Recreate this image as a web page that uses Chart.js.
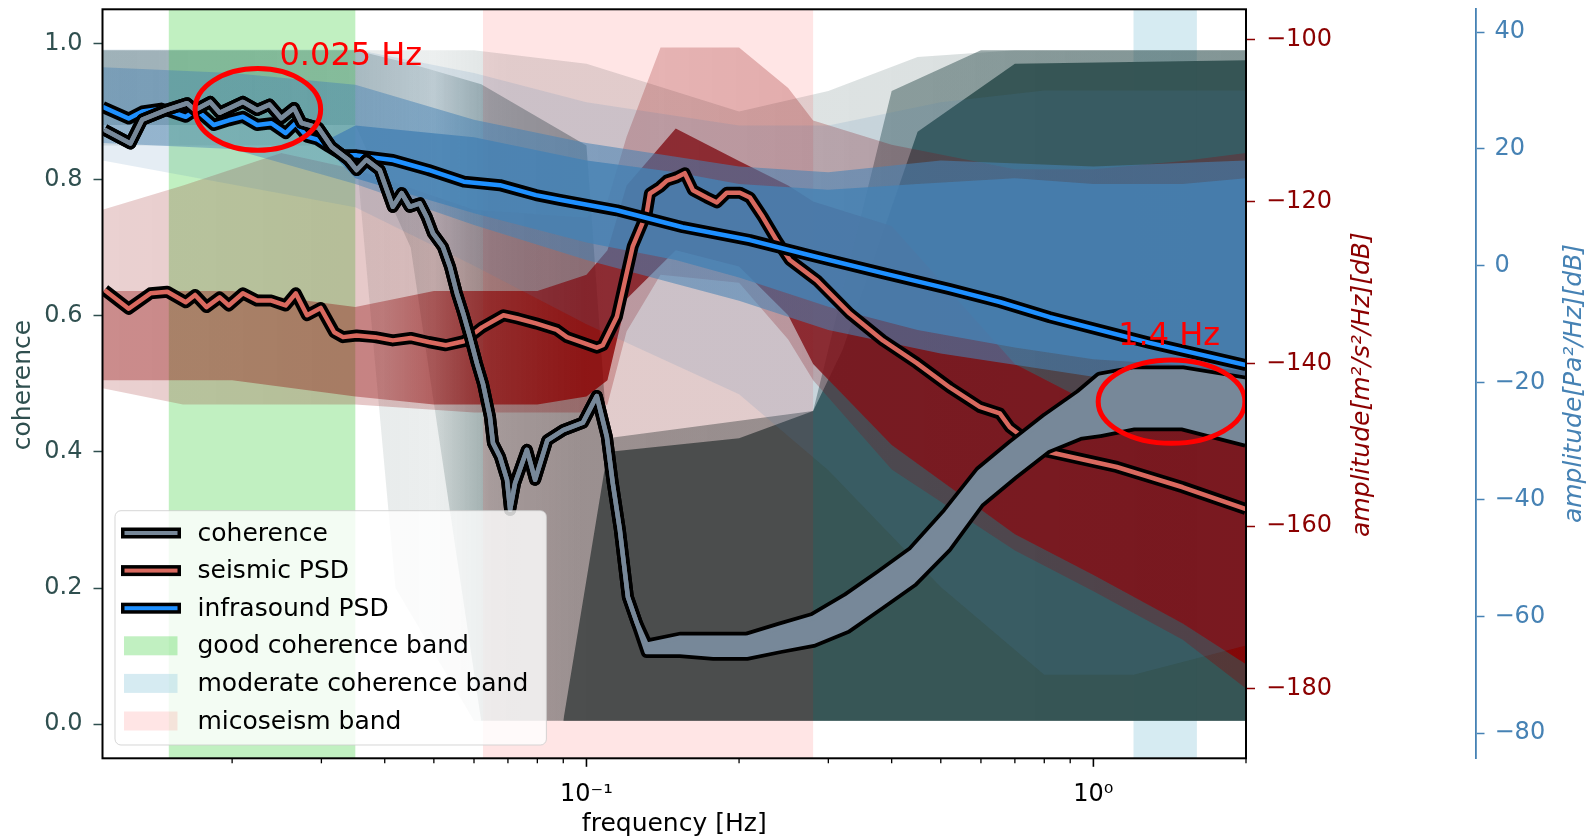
<!DOCTYPE html>
<html>
<head>
<meta charset="utf-8">
<script src="https://cdn.jsdelivr.net/npm/chart.js@4.4.0/dist/chart.umd.min.js"></script>
<style>
  html, body { margin: 0; padding: 0; background: #fff; }
  #wrap { width: 1587px; height: 839px; }
</style>
</head>
<body>
<div id="wrap"><canvas id="chart"></canvas></div>
<script>
// axis limits and ticks
const freqMin = 0.0111, freqMax = 2.0;
const xTicks = [0.02, 0.03, 0.04, 0.05, 0.06, 0.07, 0.08, 0.09, 0.1,
                0.2, 0.3, 0.4, 0.5, 0.6, 0.7, 0.8, 0.9, 1, 2];
const xTickLabels = ['', '', '', '', '', '', '', '', '10⁻¹',
                     '', '', '', '', '', '', '', '', '10⁰', ''];
const cohTicks = [0, 0.2, 0.4, 0.6, 0.8, 1.0];
const seisTicks = [-180, -160, -140, -120, -100];
const infraTicks = [-80, -60, -40, -20, 0, 20, 40];

// mean coherence (thin part) and its noisy band at high frequency
const cohLineF = [0.0112, 0.0126, 0.0133, 0.0148, 0.0163, 0.0169, 0.0181, 0.0189, 0.0210, 0.0224,
  0.0237, 0.0250, 0.0265, 0.0274, 0.0296, 0.0314, 0.0339, 0.0352, 0.0368, 0.0391,
  0.0415, 0.0432, 0.0448, 0.0469, 0.0484, 0.0498, 0.0521, 0.0538, 0.0555, 0.0571,
  0.0589, 0.0608, 0.0625, 0.0645, 0.0654, 0.0675, 0.0697, 0.0707, 0.0723, 0.0763,
  0.0792, 0.0837, 0.0900, 0.0984, 0.1048, 0.1097, 0.1127, 0.1164, 0.1207, 0.1257];
const cohLine = [0.873, 0.853, 0.888, 0.902, 0.912, 0.902, 0.914, 0.898, 0.914, 0.902,
  0.910, 0.890, 0.905, 0.883, 0.876, 0.848, 0.829, 0.814, 0.829, 0.814,
  0.760, 0.780, 0.760, 0.765, 0.745, 0.721, 0.701, 0.672, 0.633, 0.604,
  0.569, 0.530, 0.500, 0.452, 0.413, 0.393, 0.359, 0.315, 0.354, 0.403,
  0.359, 0.417, 0.432, 0.443, 0.482, 0.422, 0.354, 0.285, 0.187, 0.149];
const cohBandF = [0.1315, 0.153, 0.178, 0.207, 0.241, 0.28, 0.326, 0.379, 0.44,
  0.514, 0.597, 0.693, 0.809, 0.94, 1.03, 1.2, 1.5, 2.0];
const cohBandHi = [0.117, 0.127, 0.127, 0.127, 0.142, 0.156, 0.185, 0.219, 0.254,
  0.31, 0.371, 0.411, 0.45, 0.484, 0.509, 0.518, 0.518, 0.503];
const cohBandLo = [0.106, 0.106, 0.102, 0.102, 0.112, 0.121, 0.141, 0.175, 0.209,
  0.26, 0.326, 0.366, 0.405, 0.425, 0.429, 0.439, 0.439, 0.415];

// mean seismic PSD (dB)
const seisF = [0.0112, 0.0125, 0.0138, 0.0149, 0.0162, 0.0169, 0.0178, 0.0189, 0.0197, 0.0210,
  0.0224, 0.0239, 0.0255, 0.0267, 0.0281, 0.0299, 0.0318, 0.0331, 0.0352, 0.0383,
  0.0415, 0.0450, 0.0488, 0.0528, 0.0573, 0.0622, 0.0686, 0.0732, 0.0795, 0.0874,
  0.0915, 0.1048, 0.1077, 0.1148, 0.1234, 0.1315, 0.1334, 0.1396, 0.1441, 0.1508,
  0.1563, 0.1622, 0.1727, 0.1808, 0.1892, 0.2007, 0.2101, 0.2228, 0.2374, 0.2518,
  0.2847, 0.3307, 0.3843, 0.4484, 0.5209, 0.5970, 0.6537, 0.6842, 0.7837, 1.112,
  1.501, 2.0];
const seis = [-130.9, -133.2, -131.3, -131.1, -132.4, -131.5, -133.0, -131.8, -132.8, -131.3,
  -132.2, -132.2, -132.8, -131.3, -134.0, -133.1, -136.1, -136.7, -136.5, -136.7,
  -137.1, -136.8, -137.3, -137.7, -137.2, -135.5, -134.0, -134.4, -135.0, -135.8,
  -136.7, -138.0, -137.7, -134.2, -125.5, -121.4, -119.0, -118.2, -117.4, -117.0,
  -116.5, -118.6, -119.5, -120.1, -118.9, -118.9, -119.5, -121.9, -124.8, -127.2,
  -129.7, -133.8, -137.1, -139.9, -142.9, -145.3, -146.1, -147.8, -150.6, -152.7,
  -155.2, -157.9];

// mean infrasound PSD (dB)
const infraF = [0.0111, 0.0125, 0.0133, 0.0145, 0.0162, 0.0170, 0.0184, 0.0197, 0.0210, 0.0224,
  0.0239, 0.0255, 0.0267, 0.0281, 0.0295, 0.0310, 0.0331, 0.0352, 0.0415, 0.0488,
  0.0573, 0.0675, 0.0795, 0.0886, 0.1148, 0.1549, 0.2101, 0.2847, 0.3843, 0.5209,
  0.6537, 0.8204, 1.292, 2.0];
const infra = [27.2, 25.2, 26.4, 26.9, 25.5, 26.7, 24.1, 24.9, 25.5, 24.1,
  24.4, 22.7, 24.4, 22.1, 21.6, 20.4, 18.9, 18.9, 18.1, 16.4,
  14.4, 13.8, 12.1, 11.3, 9.5, 6.6, 4.4, 1.5, -1.25, -4.0,
  -6.2, -8.8, -13.2, -17.0];

// spread of the individual windows (envelopes of the thin traces)
const cohFaintF  = [0.0111, 0.035, 0.042, 0.06, 0.1, 0.2, 0.3, 0.45, 0.7, 2.0];
const cohFaintHi = [0.99, 0.99, 0.99, 0.99, 0.97, 0.9, 0.93, 0.98, 0.99, 0.99];
const cohFaintLo = [0.85, 0.85, 0.2, 0.005, 0.005, 0.005, 0.005, 0.005, 0.005, 0.005];
const cohMidF  = [0.0111, 0.035, 0.045, 0.062, 0.1, 0.11, 0.28, 0.4, 0.6, 2.0];
const cohMidHi = [0.99, 0.99, 0.97, 0.94, 0.85, 0.42, 0.46, 0.93, 0.99, 0.99];
const cohMidLo = [0.88, 0.88, 0.7, 0.005, 0.005, 0.005, 0.005, 0.005, 0.005, 0.005];
const cohDenseF  = [0.09, 0.11, 0.2, 0.28, 0.32, 0.45, 0.7, 2.0];
const cohDenseHi = [0.005, 0.4, 0.42, 0.46, 0.55, 0.87, 0.97, 0.975];
const cohDenseLo = [0.005, 0.005, 0.005, 0.005, 0.005, 0.005, 0.005, 0.005];

const redFaintF  = [0.0111, 0.016, 0.025, 0.035, 0.06, 0.1, 0.11, 0.12, 0.14, 0.2, 0.25, 0.28, 0.4, 0.7, 1.0, 1.5, 2.0];
const redFaintHi = [-121, -118, -114, -116, -121, -122, -120, -112, -101, -101, -106, -110, -113, -116, -116, -115, -114];
const redFaintLo = [-143, -145, -145, -145, -146, -146, -145, -136, -129, -130, -137, -142, -153, -163, -168, -174, -180];
const redDenseF  = [0.0111, 0.02, 0.035, 0.05, 0.08, 0.1, 0.11, 0.12, 0.15, 0.2, 0.25, 0.28, 0.4, 0.7, 1.0, 1.5, 2.0];
const redDenseHi = [-131, -131, -133, -131, -131, -129, -126, -118, -111, -115, -118, -120, -123, -140, -145, -148, -150];
const redDenseLo = [-142, -142, -144, -145, -145, -144, -142, -132, -126, -128, -134, -140, -150, -161, -166, -172, -177];

const blueFaintF  = [0.0111, 0.035, 0.06, 0.1, 0.2, 0.3, 0.5, 0.8, 1.2, 2.0];
const blueFaintHi = [37, 37, 33, 28, 24, 24, 28, 30, 30, 30];
const blueFaintLo = [18, 10, 0, -10, -22, -35, -55, -70, -70, -65];
const blueMidF  = [0.0111, 0.02, 0.035, 0.06, 0.1, 0.2, 0.3, 0.5, 1.0, 2.0];
const blueMidHi = [34, 33, 31, 25, 21, 17, 16, 18, 17, 18];
const blueMidLo = [21, 20, 14, 7, 1, -6, -11, -15, -19, -20];
const blueDenseF  = [0.03, 0.035, 0.06, 0.1, 0.15, 0.2, 0.3, 0.45, 0.7, 1.0, 1.5, 2.0];
const blueDenseHi = [21, 24, 22, 18, 16, 14, 13, 14, 15, 14, 14, 15];
const blueDenseLo = [21, 15, 9, 4, 1, -2, -7, -11, -14, -16, -17, -18];

// frequency bands
const bandFrom = [0.015, 1.2, 0.0625];
const bandTo = [0.035, 1.6, 0.28];
const bandColors = ['rgba(50,205,50,0.3)', 'rgba(173,216,230,0.5)', 'rgba(255,0,0,0.1)'];
const bandOverTraces = [true, false, true];

// red annotations (frequency range, coherence range of the rings; text anchors)
const ringFrom = [0.0169, 1.022];
const ringTo = [0.0299, 1.99];
const ringLo = [0.843, 0.4126];
const ringHi = [0.963, 0.535];
const noteText = ['0.025 Hz', '1.4 Hz'];
const noteF = [0.0248, 1.119];
const noteC = [0.968, 0.557];

const legendLabels = ['coherence', 'seismic PSD', 'infrasound PSD',
  'good coherence band', 'moderate coherence band', 'micoseism band'];

const SLATE = '#2F4F4F', DARKRED = '#8B0000', STEEL = '#4682B4';
const COH = '#778899', SEIS = '#d9695f', INFRA = '#1E90FF';

Chart.defaults.font.family = "'DejaVu Sans', sans-serif";

const pts = (fs, vs) => fs.map((f, i) => ({x: f, y: vs[i]}));

// fill colour whose opacity changes along the frequency axis
function alongX(rgb, stops) {
  return ctx => {
    const chart = ctx.chart, a = chart.chartArea, x = chart.scales.x;
    if (!a || !x || !isFinite(x.getPixelForValue(1))) return `rgba(${rgb},${stops[0][1]})`;
    const g = chart.ctx.createLinearGradient(a.left, 0, a.right, 0);
    stops.forEach(([f, al]) => {
      const t = (x.getPixelForValue(f) - a.left) / (a.right - a.left);
      g.addColorStop(Math.min(1, Math.max(0, t)), `rgba(${rgb},${al})`);
    });
    return g;
  };
}

const layers = [];
function cloud(fs, lo, hi, axis, color, extra) {
  layers.push({data: pts(fs, lo), yAxisID: axis, borderWidth: 0, pointRadius: 0, fill: false});
  layers.push(Object.assign({data: pts(fs, hi), yAxisID: axis, borderWidth: 0, pointRadius: 0,
    fill: '-1', backgroundColor: color}, extra || {}));
}
function line(fs, vs, axis, color, width, extra) {
  layers.push(Object.assign({data: pts(fs, vs), yAxisID: axis, borderColor: color, borderWidth: width,
    pointRadius: 0, fill: false, borderJoinStyle: 'round', borderCapStyle: 'butt'}, extra || {}));
}

const SL = '47,79,79', DR = '139,0,0', SB = '70,130,180';
cloud(cohFaintF, cohFaintLo, cohFaintHi, 'y', alongX(SL, [[0.0111, 0.13], [0.035, 0.12], [0.05, 0.09], [0.07, 0.16], [0.3, 0.16], [2, 0.2]]));
cloud(cohMidF, cohMidLo, cohMidHi, 'y', alongX(SL, [[0.0111, 0.3], [0.035, 0.25], [0.05, 0.15], [0.065, 0.38], [0.1, 0.45], [2, 0.5]]));
cloud(cohDenseF, cohDenseLo, cohDenseHi, 'y', 'rgba(47,79,79,0.9)', {bandsAfter: true});
cloud(redFaintF, redFaintLo, redFaintHi, 'y1', alongX(DR, [[0.0111, 0.18], [0.05, 0.22], [0.1, 0.26], [0.14, 0.22], [0.3, 0.25], [2, 0.35]]));
cloud(redDenseF, redDenseLo, redDenseHi, 'y1', alongX(DR, [[0.0111, 0.33], [0.04, 0.35], [0.06, 0.6], [0.1, 0.8], [2, 0.85]]));
cloud(blueFaintF, blueFaintLo, blueFaintHi, 'y2', 'rgba(70,130,180,0.14)');
cloud(blueMidF, blueMidLo, blueMidHi, 'y2', alongX(SB, [[0.0111, 0.42], [0.035, 0.45], [0.06, 0.55], [2, 0.6]]));
cloud(blueDenseF, blueDenseLo, blueDenseHi, 'y2', 'rgba(70,130,180,0.8)');

line(seisF, seis, 'y1', '#000', 12);
line(seisF, seis, 'y1', SEIS, 4.5);
line(infraF, infra, 'y2', '#000', 12);
line(infraF, infra, 'y2', INFRA, 4.5);

const cohAllF = cohLineF.concat(cohBandF);
const cohAllHi = cohLine.concat(cohBandHi);
const cohAllLo = cohLine.concat(cohBandLo);
line(cohAllF, cohAllHi, 'y', '#000', 12);
line(cohAllF, cohAllLo, 'y', '#000', 12);
line(cohAllF, cohAllLo, 'y', COH, 4.5);
line(cohAllF, cohAllHi, 'y', COH, 4.5, {fill: '-1', backgroundColor: COH});

// first entry is bottom-most
layers.forEach((d, i) => { d.order = layers.length - i; });

const fixV = w => s => { s.width = w; s.paddingTop = 0; s.paddingBottom = 0; };
const setTicks = vals => s => { s.ticks = vals.map(v => ({value: v})); };
const minus = v => String(v).replace('-', '\u2212');

function drawBands(chart, onTop) {
  const {ctx, chartArea: a} = chart, x = chart.scales.x;
  ctx.save();
  bandFrom.forEach((f, i) => {
    if (bandOverTraces[i] !== onTop) return;
    const x0 = x.getPixelForValue(f), x1 = x.getPixelForValue(bandTo[i]);
    ctx.fillStyle = bandColors[i];
    ctx.fillRect(x0, a.top, x1 - x0, a.bottom - a.top);
  });
  ctx.restore();
}

const decor = {
  id: 'decor',
  beforeDatasetsDraw(chart) { drawBands(chart, false); },
  afterDatasetDraw(chart, args) {
    if (chart.data.datasets[args.index].bandsAfter) drawBands(chart, true);
  },
  afterDatasetsDraw(chart) {
    const {ctx, chartArea: a} = chart, x = chart.scales.x, y = chart.scales.y;
    ctx.save();
    ctx.beginPath();
    ctx.rect(a.left, a.top, a.right - a.left, a.bottom - a.top);
    ctx.clip();
    ctx.strokeStyle = '#ff0000';
    ctx.lineWidth = 5;
    ringFrom.forEach((f, i) => {
      const x0 = x.getPixelForValue(f), x1 = x.getPixelForValue(ringTo[i]);
      const y0 = y.getPixelForValue(ringHi[i]), y1 = y.getPixelForValue(ringLo[i]);
      ctx.beginPath();
      ctx.ellipse((x0 + x1) / 2, (y0 + y1) / 2, (x1 - x0) / 2, (y1 - y0) / 2, 0, 0, Math.PI * 2);
      ctx.stroke();
    });
    ctx.fillStyle = '#ff0000';
    ctx.font = "32px 'DejaVu Sans'";
    ctx.textAlign = 'left';
    ctx.textBaseline = 'alphabetic';
    noteText.forEach((t, i) => ctx.fillText(t, x.getPixelForValue(noteF[i]), y.getPixelForValue(noteC[i])));
    ctx.restore();
  },
  afterDraw(chart) {
    const {ctx, chartArea: a} = chart, x = chart.scales.x;
    ctx.save();
    // legend
    const lx = 115, ly = 510.7, lw = 431.4, lh = 234.3;
    ctx.beginPath();
    ctx.roundRect(lx, ly, lw, lh, 6);
    ctx.fillStyle = 'rgba(255,255,255,0.8)';
    ctx.fill();
    ctx.strokeStyle = 'rgba(204,204,204,0.8)';
    ctx.lineWidth = 1;
    ctx.stroke();
    const handleColors = [COH, SEIS, INFRA];
    ctx.font = "25px 'DejaVu Sans'";
    ctx.textBaseline = 'middle';
    ctx.textAlign = 'left';
    legendLabels.forEach((lab, i) => {
      const yc = 533 + i * 37.6;
      if (i < 3) {
        ctx.fillStyle = '#000';
        ctx.fillRect(121, yc - 5.5, 60, 11);
        ctx.fillStyle = handleColors[i];
        ctx.fillRect(124.5, yc - 2, 53, 4);
      } else {
        ctx.fillStyle = bandColors[i - 3];
        ctx.fillRect(124, yc - 9.5, 53.5, 19);
      }
      ctx.fillStyle = '#000';
      ctx.fillText(lab, 197.5, yc + 1);
    });
    // frame
    ctx.strokeStyle = '#000';
    ctx.lineWidth = 2;
    ctx.strokeRect(a.left, a.top, a.right - a.left, a.bottom - a.top);
    // x tick marks
    xTicks.forEach((v, i) => {
      const px = x.getPixelForValue(v);
      const major = xTickLabels[i] !== '';
      ctx.lineWidth = major ? 1.6 : 1.3;
      ctx.beginPath();
      ctx.moveTo(px, a.bottom);
      ctx.lineTo(px, a.bottom + (major ? 8.5 : 5));
      ctx.stroke();
    });
    // y titles
    const title = (text, px, py, color, font) => {
      ctx.save();
      ctx.translate(px, py);
      ctx.rotate(-Math.PI / 2);
      ctx.font = font;
      ctx.fillStyle = color;
      ctx.textAlign = 'center';
      ctx.textBaseline = 'alphabetic';
      ctx.fillText(text, 0, 0);
      ctx.restore();
    };
    title('coherence', 30.4, 385, SLATE, "25px 'DejaVu Sans'");
    title('amplitude[m²/s²/Hz][dB]', 1369, 384.6, DARKRED, "italic 25px 'DejaVu Sans'");
    title('amplitude[Pa²/Hz][dB]', 1580.7, 383.5, STEEL, "italic 25px 'DejaVu Sans'");
    ctx.restore();
  }
};

new Chart(document.getElementById('chart'), {
  type: 'line',
  data: {datasets: layers},
  plugins: [decor],
  options: {
    responsive: true,
    maintainAspectRatio: false,
    animation: false,
    events: [],
    layout: {padding: {top: 9.3, left: 0, right: 0, bottom: 0}, autoPadding: false},
    elements: {line: {tension: 0}, point: {radius: 0}},
    plugins: {legend: {display: false}, tooltip: {enabled: false}},
    scales: {
      x: {
        type: 'logarithmic', position: 'bottom', min: freqMin, max: freqMax,
        afterBuildTicks: setTicks(xTicks),
        afterFit: s => { s.height = 80.7; s.paddingLeft = 0; s.paddingRight = 0; },
        grid: {display: false}, border: {display: false},
        ticks: {autoSkip: false, maxRotation: 0, minRotation: 0, padding: 14, color: '#000',
          font: {size: 24}, callback: (v, i) => xTickLabels[i]},
        title: {display: true, text: 'frequency [Hz]', color: '#000', font: {size: 25},
          padding: {top: 0, bottom: 0}}
      },
      y: {
        type: 'linear', position: 'left', min: -0.05, max: 1.05,
        afterBuildTicks: setTicks(cohTicks), afterFit: fixV(102.5),
        grid: {drawOnChartArea: false, tickLength: 9, tickWidth: 1.5, tickColor: SLATE},
        border: {display: false},
        ticks: {autoSkip: false, color: SLATE, font: {size: 24}, padding: 11, callback: v => v.toFixed(1)}
      },
      y1: {
        type: 'linear', position: 'right', min: -188.6, max: -96.3,
        afterBuildTicks: setTicks(seisTicks), afterFit: fixV(229.5),
        grid: {drawOnChartArea: false, tickLength: 9, tickWidth: 1.5, tickColor: DARKRED},
        border: {display: false},
        ticks: {autoSkip: false, color: DARKRED, font: {size: 24}, padding: 11, callback: v => minus(v)}
      },
      y2: {
        type: 'linear', position: 'right', min: -84.3, max: 43.9,
        afterBuildTicks: setTicks(infraTicks), afterFit: fixV(111.5),
        grid: {drawOnChartArea: false, tickLength: 9, tickWidth: 1.5, tickColor: STEEL},
        border: {display: true, color: STEEL, width: 1.8},
        ticks: {autoSkip: false, color: STEEL, font: {size: 24}, padding: 10, callback: v => minus(v)}
      }
    }
  }
});
</script>
</body>
</html>
